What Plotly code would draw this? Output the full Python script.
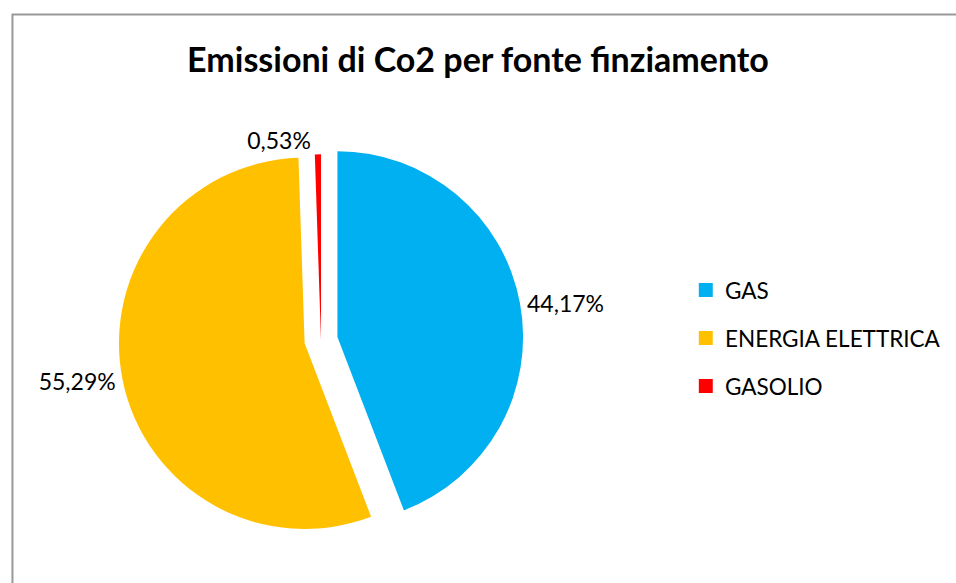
import plotly.graph_objects as go

# Emission shares by energy source (percent)
labels = ["GAS", "ENERGIA ELETTRICA", "GASOLIO"]
values = [44.17, 55.29, 0.53]
colors = ["#00B0F0", "#FFC000", "#FF0000"]
explode = [0.09, 0.09, 0.0]

W, H = 956, 583
FONT = "Lato, Calibri, Arial, sans-serif"

# Pie centre and outer box (pixels from the top-left corner)
cx, cy, half = 319, 340, 203

fig = go.Figure(
    go.Pie(
        labels=labels,
        values=values,
        sort=False,
        direction="clockwise",
        rotation=0,
        pull=explode,
        marker=dict(colors=colors, line=dict(width=0)),
        texttemplate="%{value:.2f}%",
        textposition="outside",
        textfont=dict(size=23, color="#000000", family=FONT),
        domain=dict(x=[(cx - half) / W, (cx + half) / W],
                    y=[(H - cy - half) / H, (H - cy + half) / H]),
        showlegend=False,
        hoverinfo="label+value",
    )
)

# Chart area frame
shapes = [
    dict(
        type="rect", xref="paper", yref="paper",
        x0=9.5 / W, x1=1.02, y0=-0.02, y1=1 - 14.5 / H,
        line=dict(color="#999999", width=2), fillcolor="rgba(0,0,0,0)",
        layer="below",
    )
]
annotations = []

# Legend entries, one row per category
leg_x = 698
leg_y0, leg_dy = 290, 48
for i, (lab, col) in enumerate(zip(labels, colors)):
    ly = leg_y0 + i * leg_dy
    shapes.append(dict(
        type="rect", xref="paper", yref="paper",
        x0=leg_x / W, x1=(leg_x + 14) / W,
        y0=1 - (ly + 7) / H, y1=1 - (ly - 7) / H,
        line=dict(width=0), fillcolor=col,
    ))
    annotations.append(dict(
        xref="paper", yref="paper", x=(leg_x + 24) / W, y=1 - ly / H,
        xanchor="left", yanchor="middle", showarrow=False, text=lab,
        font=dict(size=22.5, color="#000000", family=FONT),
    ))

fig.update_layout(
    width=W, height=H,
    margin=dict(l=0, r=0, t=0, b=0),
    paper_bgcolor="#ffffff",
    plot_bgcolor="#ffffff",
    separators=",.",
    title=dict(
        text="<b>Emissioni di Co2 per fonte finziamento</b>",
        x=0.5, xanchor="center", y=1 - 60 / H, yanchor="middle",
        font=dict(size=34, color="#000000", family=FONT),
    ),
    shapes=shapes,
    annotations=annotations,
)

fig.write_html("out.html")
